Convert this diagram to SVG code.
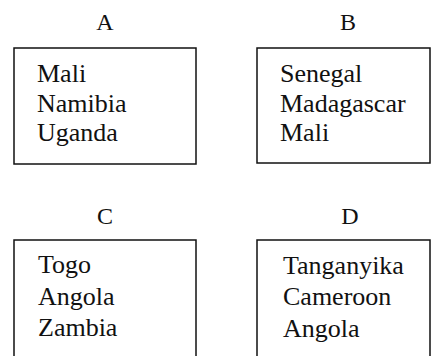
<svg xmlns="http://www.w3.org/2000/svg" width="431" height="356" viewBox="0 0 431 356">
<style>
.box{fill:none;stroke:#111;stroke-width:1.5}
.lbl{font-family:"Liberation Serif","Times New Roman",serif;font-size:24px;fill:#111;text-anchor:middle}
.t{font-family:"Liberation Serif","Times New Roman",serif;font-size:26px;fill:#111}
</style>
<rect width="431" height="356" fill="#fff"/>
<g id="nodeA">
<text class="lbl" x="105" y="30">A</text>
<rect class="box" x="14" y="48" width="182" height="116"/>
<text class="t" x="37" y="82">Mali</text>
<text class="t" x="37" y="112">Namibia</text>
<text class="t" x="37" y="141">Uganda</text>
</g>
<g id="nodeB">
<text class="lbl" x="348" y="30">B</text>
<rect class="box" x="257" y="48" width="173" height="115"/>
<text class="t" x="280" y="82">Senegal</text>
<text class="t" x="280" y="112">Madagascar</text>
<text class="t" x="280" y="141">Mali</text>
</g>
<g id="nodeC">
<text class="lbl" x="105" y="224">C</text>
<rect class="box" x="14" y="240" width="182" height="130"/>
<text class="t" x="38" y="273">Togo</text>
<text class="t" x="38" y="305">Angola</text>
<text class="t" x="38" y="336">Zambia</text>
</g>
<g id="nodeD">
<text class="lbl" x="350" y="224">D</text>
<rect class="box" x="257" y="240" width="173" height="130"/>
<text class="t" x="283" y="274">Tanganyika</text>
<text class="t" x="283" y="305">Cameroon</text>
<text class="t" x="283" y="337">Angola</text>
</g>
<g id="connectors"></g>
</svg>
